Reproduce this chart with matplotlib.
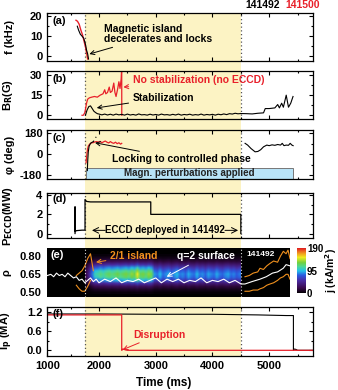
import matplotlib
matplotlib.use('Agg')
import matplotlib.pyplot as plt
import numpy as np
from matplotlib.colors import LinearSegmentedColormap
from matplotlib.patches import Rectangle
from matplotlib.transforms import blended_transform_factory
from matplotlib.ticker import AutoMinorLocator

plt.rcParams['font.family'] = ['Liberation Sans', 'DejaVu Sans']
plt.rcParams['font.weight'] = 'bold'
plt.rcParams['axes.labelweight'] = 'bold'
plt.rcParams['mathtext.default'] = 'bf'

RED = '#e8202a'
ORANGE = '#f0901e'
YELLOW = '#fcf3c4'
LBLUE = '#b8e4f8'

# ---------------- data ----------------
t_lim = (1088, 5767)
t_eccd_on, t_eccd_off = 1753, 4504

# (a) mode frequency
a_t_red = [1594, 1620, 1650, 1680, 1710, 1740, 1765, 1785, 1800]
a_f_red = [18, 17.5, 16, 13, 10.5, 7, 4, 1, -1.5]
a_t_blk = [1617, 1640, 1670, 1700, 1730, 1760, 1780, 1800, 1815]
a_f_blk = [15, 13, 11, 10, 9, 6, 3, 1, -1.5]

# (b) B_R
b_t_red = [1700, 1723, 1750, 1780, 1800, 1830, 1870, 1920, 1970, 2020, 2070, 2100, 2120,
           2150, 2180, 2200, 2230, 2260, 2280, 2300, 2330, 2350, 2370, 2390, 2400, 2401]
b_B_red = [0, 0, 2, 9, 12, 13, 13.5, 14, 13.5, 15, 16, 19, 16,
           17, 21, 17, 18, 24, 17, 14, 20, 25, 20, 27, 36, 0]
b_t_blk = [1760, 1790, 1820, 1850, 1880, 1910, 1940, 1970, 2000, 2050, 2100, 2150, 2200,
           2250, 2300, 2350, 2400, 2450, 2500, 2550, 2600, 2650, 2700, 2750, 2800, 2850,
           2900, 2950, 3000, 3050, 3100, 3150, 3200, 3250, 3300, 3350, 3400, 3450, 3500,
           3550, 3600, 3650, 3700, 3750, 3800, 3850, 3900, 3950, 4000, 4050, 4100, 4150,
           4200, 4250, 4300, 4350, 4400, 4450, 4500, 4600, 4700, 4800, 4900, 4930, 5000,
           5100, 5150, 5180, 5220, 5250, 5300, 5340, 5380, 5420]
b_B_blk = [0, 4, 6.5, 7, 5, 3, 2, 1.2, 0.9, 0.3, 0.9, 0.2, 0.8,
           0.1, 0.9, 0.3, 0.7, 0.1, 0.9, 0.2, 0.6, 0.1, 1.0, 0.3, 0.5, 0.1,
           0.8, 0.2, 0.6, 0.1, 0.9, 0.3, 0.5, 0.1, 0.7, 0.2, 0.9, 0.1, 0.6,
           0.3, 0.8, 0.1, 0.5, 0.2, 0.9, 0.1, 0.6, 0.3, 0.7, 0.1, 0.8, 0.4,
           1.0, 0.5, 1.2, 0.9, 1.5, 1.1, 1.3, 1.2, 1.0, 1.5, 1.8, 5, 5,
           5.5, 8, 5.5, 9, 6, 15, 6, 9, 14]

# (c) phase
c_t_red = [1771, 1780, 1790, 1800, 1811, 1830, 1850, 1870, 1899, 1930, 1960, 1990, 2020,
           2050, 2080, 2110, 2140, 2170, 2200, 2230, 2260, 2290, 2320, 2350, 2380, 2400]
c_p_red = [-72, -30, 20, 50, 72, 85, 95, 100, 101, 108, 110, 105, 112,
           100, 108, 115, 105, 98, 110, 100, 95, 105, 92, 100, 88, 95]
c_t_blk1 = [1794, 1800, 1810, 1825, 1850, 1880, 1900]
c_p_blk1 = [-140, -60, 20, 70, 95, 105, 110]
c_t_blk_dot = [1900, 1930, 1960]
c_p_blk_dot = [110, 135, 160]
c_t_blk2 = [4575, 4620, 4680, 4751, 4800, 4850, 4900, 4958, 5000, 5050, 5100, 5150, 5200,
            5230, 5260, 5300, 5340, 5370, 5400, 5422]
c_p_blk2 = [95, 80, 50, 22, 25, 40, 65, 80, 75, 82, 78, 85, 80,
            95, 75, 80, 78, 95, 80, 75]
pert_on, pert_off = 1771, 5422

# (d) ECCD power
d_t = [1577, 1577, 1580, 1600, 1700, 1753, 1753, 1780, 1850, 2912, 2912, 4500, 4500]
d_P = [0, 2.8, 0.2, 0.3, 0.35, 0.35, 3.55, 3.35, 3.3, 3.3, 2.0, 2.0, 0]

# (e) current density map
e_t_bins = list(range(1750, 4500, 50))
e_amp = [25, 50, 80, 105, 110, 118, 112, 120, 125, 118, 122, 128, 120, 125, 130, 122,
         135, 128, 150, 125, 130, 122, 135, 125, 88, 82, 95, 80, 86, 92, 80, 88, 96, 82,
         86, 78, 92, 84, 80, 94, 82, 86, 78, 90, 84, 80, 92, 82, 78, 86, 90, 80, 84, 76, 82]
e_rho = [0.50, 0.525, 0.55, 0.575, 0.60, 0.625, 0.65, 0.675, 0.70, 0.725, 0.75, 0.775, 0.80]
e_prof = [0.03, 0.10, 0.22, 0.45, 0.75, 0.95, 1.0, 0.9, 0.7, 0.45, 0.22, 0.10, 0.03]

q2_t = [1088, 1150, 1200, 1250, 1300, 1350, 1400, 1450, 1500, 1550, 1600, 1650, 1700, 1750,
        1800, 1850, 1900, 1950, 2000, 2100, 2200, 2300, 2400, 2500, 2600, 2700, 2800,
        2900, 3000, 3100, 3200, 3300, 3400, 3500, 3600, 3700, 3800, 3900, 4000, 4100,
        4200, 4300, 4400, 4504, 4575, 4700, 4840, 4950, 5060, 5150, 5250, 5300, 5369]
q2_rho = [0.64, 0.65, 0.63, 0.66, 0.64, 0.65, 0.63, 0.66, 0.64, 0.62, 0.63, 0.60, 0.61, 0.58,
          0.60, 0.62, 0.59, 0.61, 0.58, 0.61, 0.59, 0.62, 0.58, 0.60, 0.59, 0.61, 0.58,
          0.60, 0.62, 0.58, 0.61, 0.59, 0.61, 0.58, 0.60, 0.59, 0.62, 0.58, 0.60, 0.59,
          0.61, 0.58, 0.60, 0.57, 0.57, 0.59, 0.61, 0.63, 0.66, 0.67, 0.70, 0.73, 0.72]
isl_up_t = [1600, 1650, 1700, 1750, 1800, 1850, 1900]
isl_up_rho = [0.64, 0.66, 0.68, 0.72, 0.78, 0.82, 0.68]
isl_lo_t = [1600, 1650, 1700, 1750, 1800, 1850]
isl_lo_rho = [0.56, 0.53, 0.51, 0.51, 0.55, 0.60]
isl2_up_t = [4575, 4650, 4720, 4800, 4840, 4900, 4960, 5016, 5080, 5150, 5200, 5251, 5300, 5334, 5369]
isl2_up_rho = [0.63, 0.64, 0.66, 0.67, 0.70, 0.69, 0.72, 0.74, 0.76, 0.75, 0.80, 0.84, 0.82, 0.85, 0.78]
isl2_lo_t = [4575, 4650, 4720, 4800, 4840, 4900, 4960, 5016, 5080, 5150, 5200, 5251, 5300, 5334, 5369]
isl2_lo_rho = [0.51, 0.51, 0.52, 0.52, 0.53, 0.54, 0.56, 0.57, 0.58, 0.60, 0.62, 0.63, 0.65, 0.65, 0.61]
j_max = 190

# (f) plasma current
f_t_blk = [1088, 2000, 3000, 4000, 4800, 5300, 5427, 5427, 5440, 5470, 5500, 5767]
f_I_blk = [1.15, 1.15, 1.14, 1.14, 1.12, 1.10, 1.10, 0.0, 0.04, 0.03, 0.0, 0.0]
f_t_red = [1088, 1500, 2000, 2400, 2400, 2420, 2440, 2470, 2500, 5767]
f_I_red = [1.12, 1.12, 1.12, 1.12, 0.0, 0.04, 0.03, 0.01, 0.0, 0.0]

# ---------------- figure ----------------
W, H = 338, 390
fig = plt.figure(figsize=(W / 100, H / 100), dpi=100)


def ax_at(x0, y0, x1, y1):
    return fig.add_axes([x0 / W, 1 - y1 / H, (x1 - x0) / W, (y1 - y0) / H])


L, R = 47.3, 312.7
ax_a = ax_at(L, 13.3, R, 61)
ax_b = ax_at(L, 71, R, 119.3)
ax_c = ax_at(L, 130, R, 179.3)
ax_d = ax_at(L, 193.3, R, 238.3)
ax_e = ax_at(L, 248.3, 290, 296.7)
ax_cb = ax_at(296.7, 248.3, 305.7, 293.3)
ax_f = ax_at(L, 306.7, R, 356)

line_axes = [ax_a, ax_b, ax_c, ax_d, ax_f]
for ax in line_axes + [ax_e]:
    ax.set_xlim(*t_lim)
    ax.set_facecolor('none')
ax_e.set_xlim(t_lim[0], 5369)

# yellow ECCD window spanning panels
tr = blended_transform_factory(ax_a.transData, fig.transFigure)
fig.add_artist(Rectangle((t_eccd_on, 1 - 356 / H), t_eccd_off - t_eccd_on, (356 - 13.3) / H,
                         transform=tr, facecolor=YELLOW, edgecolor='none', zorder=-5))

for ax in line_axes:
    ax.tick_params(which='both', direction='in', top=True, right=True, labelsize=8,
                   width=0.8)
    ax.tick_params(which='major', length=3)
    ax.tick_params(which='minor', length=1.5)
    ax.yaxis.set_minor_locator(AutoMinorLocator(2))
    ax.set_xticks([1088, 2000, 3000, 4000, 5000])
    ax.set_xticks([1500, 2500, 3500, 4500, 5500], minor=True)
    for s in ax.spines.values():
        s.set_linewidth(0.9)
    for tv in (t_eccd_on, t_eccd_off):
        ax.axvline(tv, color='#555555', ls=(0, (1, 2)), lw=0.9, zorder=1)
    if ax is not ax_f:
        ax.set_xticklabels([])
    ax.yaxis.set_label_coords(-0.12, 0.5)

# (a)
ax_a.plot(a_t_red, a_f_red, color=RED, lw=1)
ax_a.plot(a_t_blk, a_f_blk, color='k', lw=0.8)
ax_a.set_ylim(-2.5, 21.5)
ax_a.set_yticks([0, 10, 20])
ax_a.set_ylabel('f (kHz)', fontsize=8)
ax_a.text(0.02, 0.78, '(a)', transform=ax_a.transAxes, fontsize=8)
ax_a.annotate('Magnetic island\ndecelerates and locks', xy=(1830, 1), xytext=(2088, 11),
              fontsize=7.5, va='center', ha='left', linespacing=1.0,
              arrowprops=dict(arrowstyle='->', color='k', lw=0.7, shrinkA=1, shrinkB=0))
fig.text(245 / W, 1 - 5 / H, '141492', fontsize=7.5, color='k', va='center', ha='left')
fig.text(285 / W, 1 - 5 / H, '141500', fontsize=7.5, color=RED, va='center', ha='left')

# (b)
ax_b.plot(b_t_red, b_B_red, color=RED, lw=0.9)
ax_b.plot(b_t_blk, b_B_blk, color='k', lw=0.8)
ax_b.set_ylim(-3, 33)
ax_b.set_yticks([0, 15, 30])
ax_b.set_ylabel('B$_R$(G)', fontsize=8)
ax_b.text(0.02, 0.78, '(b)', transform=ax_b.transAxes, fontsize=8)
ax_b.annotate('No stabilization (no ECCD)', xy=(2430, 21), xytext=(2594, 26),
              fontsize=7.5, color=RED, va='center', ha='left',
              arrowprops=dict(arrowstyle='->', color=RED, lw=0.7, shrinkA=1, shrinkB=0))
ax_b.annotate('Stabilization', xy=(1960, 5.5), xytext=(2594, 13),
              fontsize=7.5, color='k', va='center', ha='left',
              arrowprops=dict(arrowstyle='->', color='k', lw=0.7, shrinkA=1, shrinkB=0))

# (c)
ax_c.set_ylim(-215, 210)
ax_c.add_patch(Rectangle((pert_on, -210), pert_off - pert_on, 95, facecolor=LBLUE,
                         edgecolor='#777777', lw=0.7, zorder=2))
ax_c.text((pert_on + pert_off) / 2, -160, 'Magn. perturbations applied', fontsize=7,
          ha='center', va='center', color='#222222', zorder=3)
ax_c.plot(c_t_red, c_p_red, color=RED, lw=0.9)
ax_c.plot(c_t_blk1, c_p_blk1, color='k', lw=0.8)
ax_c.plot(c_t_blk_dot, c_p_blk_dot, color='k', lw=0.8, ls=(0, (1, 3)))
ax_c.plot(c_t_blk2, c_p_blk2, color='k', lw=0.8)
ax_c.set_yticks([-180, 0, 180])
ax_c.set_yticklabels(['-180', '0', '180'])
ax_c.set_ylabel('φ (deg)', fontsize=8)
ax_c.text(0.02, 0.78, '(c)', transform=ax_c.transAxes, fontsize=8)
ax_c.annotate('Locking to controlled phase', xy=(1930, 100), xytext=(2224, -43),
              fontsize=7.5, va='center', ha='left',
              arrowprops=dict(arrowstyle='->', color='k', lw=0.7, shrinkA=1, shrinkB=0))

# (d)
ax_d.plot(d_t, d_P, color='k', lw=0.9)
ax_d.set_ylim(-0.5, 4.2)
ax_d.set_yticks([0, 2, 4])
ax_d.set_ylabel('P$_{ECCD}$(MW)', fontsize=8)
ax_d.text(0.02, 0.8, '(d)', transform=ax_d.transAxes, fontsize=8)
ax_d.annotate('', xy=(1876, 0.33), xytext=(2110, 0.33),
              arrowprops=dict(arrowstyle='->', color='k', lw=0.7, shrinkA=0, shrinkB=0))
ax_d.annotate('', xy=(4452, 0.33), xytext=(4220, 0.33),
              arrowprops=dict(arrowstyle='->', color='k', lw=0.7, shrinkA=0, shrinkB=0))
ax_d.text(3165, 0.33, 'ECCD deployed in 141492', fontsize=7, ha='center', va='center')

# (e)
cmap = LinearSegmentedColormap.from_list('idl', [
    (0.0, '#000000'), (0.12, '#3a0a4e'), (0.28, '#4a2aa0'), (0.4, '#2a5ae0'),
    (0.5, '#22c0ea'), (0.6, '#50d890'), (0.68, '#70d040'), (0.8, '#f0ec20'),
    (0.9, '#f09020'), (1.0, '#e02020')])
ax_e.set_facecolor('black')
jmap = np.outer(np.array(e_prof), np.array(e_amp))
dt = 50
im = ax_e.imshow(jmap, extent=[e_t_bins[0], e_t_bins[-1] + dt, e_rho[0] - 0.0125, e_rho[-1] + 0.0125],
                 origin='lower', aspect='auto', cmap=cmap, vmin=0, vmax=j_max,
                 interpolation='bilinear', zorder=1)
ax_e.set_ylim(0.465, 0.865)
ax_e.set_xlim(t_lim[0], 5369)
ax_e.plot(q2_t, q2_rho, color='white', lw=0.8, zorder=3)
ax_e.plot(isl_up_t, isl_up_rho, color=ORANGE, lw=0.8, zorder=3)
ax_e.plot(isl_lo_t, isl_lo_rho, color=ORANGE, lw=0.8, zorder=3)
ax_e.plot(isl2_up_t, isl2_up_rho, color=ORANGE, lw=0.8, zorder=3)
ax_e.plot(isl2_lo_t, isl2_lo_rho, color=ORANGE, lw=0.8, zorder=3)
for tv in (t_eccd_on, t_eccd_off):
    ax_e.axvline(tv, color='#dddddd', ls=(0, (1, 2)), lw=0.8, zorder=4)
for s in ax_e.spines.values():
    s.set_visible(False)
ax_e.set_xticks([])
ax_e.set_yticks([0.50, 0.65, 0.80])
ax_e.set_yticklabels(['0.50', '0.65', '0.80'])
ax_e.tick_params(axis='y', length=0, labelsize=8, pad=4)
ax_e.set_ylabel('ρ', fontsize=8)
ax_e.yaxis.set_label_coords(-0.15, 0.5)
ax_e.text(0.015, 0.8, '(e)', transform=ax_e.transAxes, fontsize=8, color='white')
ax_e.annotate('2/1 island', xy=(1947, 0.75), xytext=(2194, 0.80), fontsize=7.5, color=ORANGE,
              va='center', ha='left',
              arrowprops=dict(arrowstyle='->', color=ORANGE, lw=0.7, shrinkA=1, shrinkB=0))
ax_e.annotate('q=2 surface', xy=(3194, 0.63), xytext=(3370, 0.80), fontsize=7.5, color='white',
              va='center', ha='left',
              arrowprops=dict(arrowstyle='->', color='white', lw=0.7, shrinkA=2, shrinkB=0))
ax_e.text(4605, 0.815, '141492', fontsize=6, color='white', va='center', ha='left')

cb = fig.colorbar(im, cax=ax_cb)
cb.set_ticks([0, 95, 190])
cb.ax.tick_params(labelsize=7, length=0, pad=1)
cb.outline.set_visible(False)
cb.set_label('j (kA/m$^2$)', fontsize=7.5, labelpad=0)

# (f)
ax_f.plot(f_t_blk, f_I_blk, color='k', lw=0.8)
ax_f.plot(f_t_red, f_I_red, color=RED, lw=0.9)
ax_f.set_ylim(-0.18, 1.38)
ax_f.set_yticks([0.0, 0.6, 1.2])
ax_f.set_yticklabels(['0.0', '0.6', '1.2'])
ax_f.set_xticklabels(['1000', '2000', '3000', '4000', '5000'])
ax_f.set_ylabel('I$_p$ (MA)', fontsize=8)
ax_f.text(0.02, 0.8, '(f)', transform=ax_f.transAxes, fontsize=8)
ax_f.annotate('Disruption', xy=(2418, 0.02), xytext=(2600, 0.5), fontsize=7.5, color=RED,
              va='center', ha='left',
              arrowprops=dict(arrowstyle='->', color=RED, lw=0.7, shrinkA=1, shrinkB=0))
ax_f.set_xlabel('Time (ms)', fontsize=8.5, labelpad=1)
ax_f.xaxis.set_label_coords(0.44, -0.42)

fig.savefig('out.png', dpi=100)
